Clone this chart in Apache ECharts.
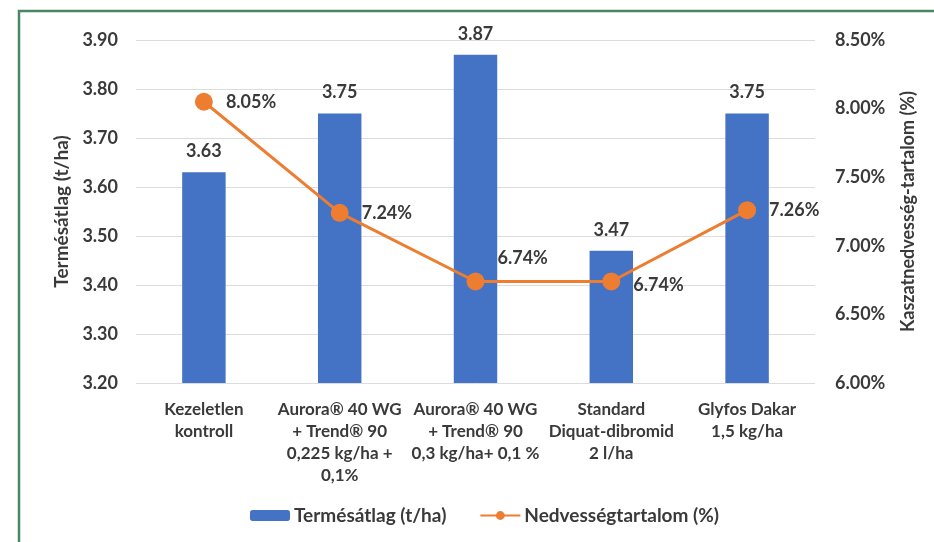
<!DOCTYPE html>
<html>
<head>
<meta charset="utf-8">
<script src="https://cdn.jsdelivr.net/npm/echarts@6/dist/echarts.min.js"></script>
<style>
html,body{margin:0;padding:0;background:#fff;}
#c{width:934px;height:542px;}
</style>
</head>
<body>
<div id="c"></div>
<script>
const categories = [
  "Kezeletlen\nkontroll",
  "Aurora® 40 WG\n+ Trend® 90\n0,225 kg/ha +\n0,1%",
  "Aurora® 40 WG\n+ Trend® 90\n0,3 kg/ha+ 0,1 %",
  "Standard\nDiquat-dibromid\n2 l/ha",
  "Glyfos Dakar\n1,5 kg/ha"
];
const yieldValues = [3.63, 3.75, 3.87, 3.47, 3.75];
const moistureValues = [8.05, 7.24, 6.74, 6.74, 7.26];
const yieldName = "Termésátlag (t/ha)";
const moistureName = "Nedvességtartalom (%)";
const leftAxisTitle = "Termésátlag (t/ha)";
const rightAxisTitle = "Kaszatnedvesség-tartalom (%)";

const FONT = "Lato";
const TXT = "#3a3a3a";

const lineLabelOffsets = [[0,0],[0,0],[0,-23],[0,4],[0,0]];

const chart = echarts.init(document.getElementById('c'), null, {renderer:'canvas'});
chart.setOption({
  animation:false,
  backgroundColor:'#fff',
  textStyle:{fontFamily:FONT},
  graphic:[
    {type:'rect', shape:{x:19, y:11, width:940, height:560}, style:{fill:'none', stroke:'#4a8564', lineWidth:2.5}, silent:true}
  ],
  grid:{left:136, right:119, top:40, bottom:159},
  legend:{
    bottom:12, left:245, itemGap:33, itemWidth:40, itemHeight:11,
    textStyle:{fontFamily:FONT, fontWeight:'bold', fontSize:19, color:TXT, padding:[0,0,0,-1]},
    data:[yieldName, moistureName]
  },
  xAxis:{
    type:'category', data:categories,
    axisLine:{show:false}, axisTick:{show:false},
    axisLabel:{interval:0, fontFamily:FONT, fontWeight:'bold', fontSize:17, color:TXT, lineHeight:22, margin:16}
  },
  yAxis:[
    {type:'value', min:3.2, max:3.9, interval:0.1,
     name:leftAxisTitle, nameLocation:'middle', nameRotate:90, nameGap:64,
     nameTextStyle:{fontFamily:FONT, fontWeight:'bold', fontSize:19, color:TXT},
     axisLabel:{formatter:v=>v.toFixed(2), fontFamily:FONT, fontWeight:'bold', fontSize:18, color:TXT, margin:18},
     splitLine:{lineStyle:{color:'#dcdcdc', width:1}},
     axisLine:{show:false}, axisTick:{show:false}},
    {type:'value', min:6, max:8.5, interval:0.5,
     name:rightAxisTitle, nameLocation:'middle', nameRotate:90, nameGap:84,
     nameTextStyle:{fontFamily:FONT, fontWeight:'bold', fontSize:18, color:TXT},
     axisLabel:{formatter:v=>v.toFixed(2)+'%', fontFamily:FONT, fontWeight:'bold', fontSize:18, color:TXT, margin:20},
     splitLine:{show:false}, axisLine:{show:false}, axisTick:{show:false}}
  ],
  series:[
    {name:yieldName, type:'bar', data:yieldValues, barWidth:'32%', yAxisIndex:0,
     itemStyle:{color:'#4472C4'},
     label:{show:true, position:'top', distance:12, formatter:p=>p.value.toFixed(2), fontFamily:FONT, fontWeight:'bold', fontSize:18, color:TXT}},
    {name:moistureName, type:'line', data:moistureValues.map((v,i)=>({value:v, label:{offset:lineLabelOffsets[i]}})), yAxisIndex:1,
     symbol:'circle', symbolSize:18,
     lineStyle:{color:'#ED7D31', width:3}, itemStyle:{color:'#ED7D31'},
     label:{show:true, position:'right', distance:13, formatter:p=>p.value.toFixed(2)+'%', fontFamily:FONT, fontWeight:'bold', fontSize:18, color:TXT}}
  ]
});
</script>
</body>
</html>
